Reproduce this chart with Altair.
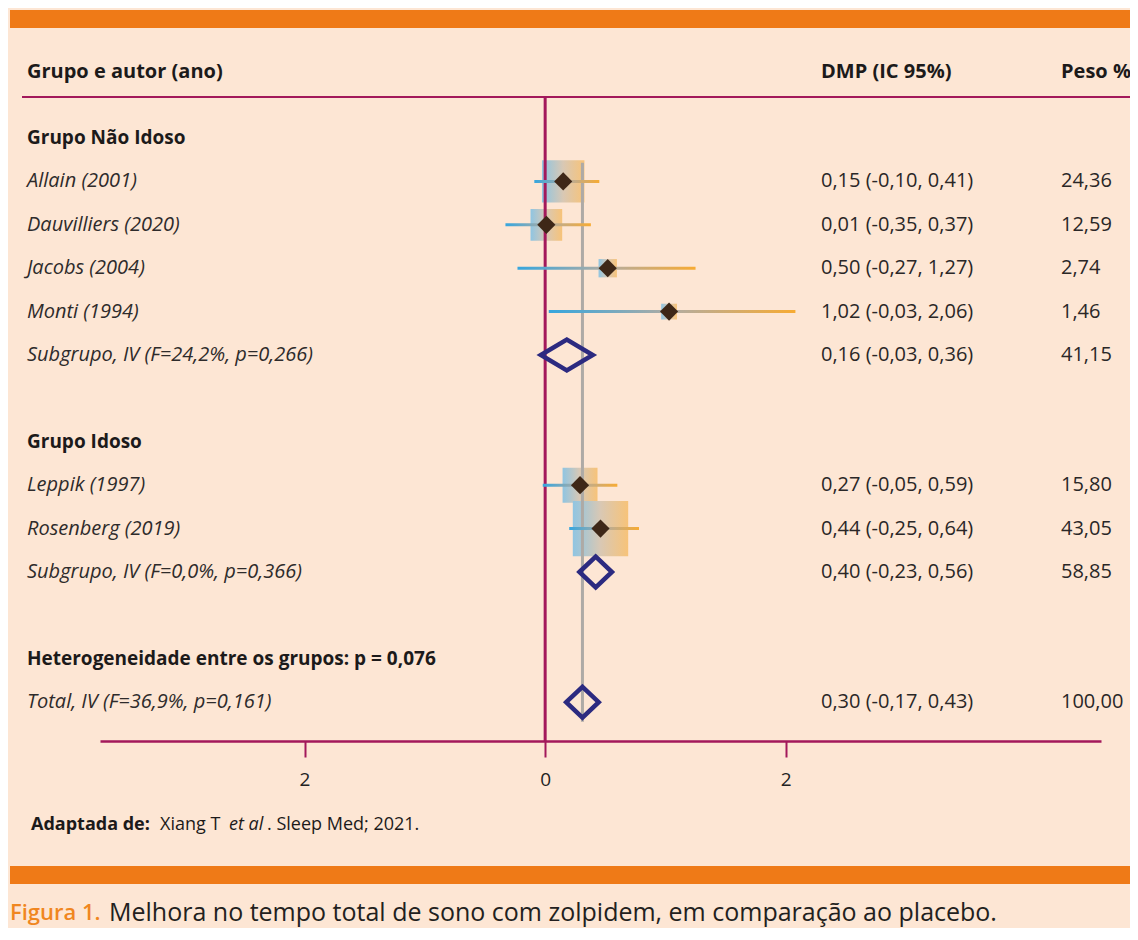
import altair as alt
import pandas as pd

# ---------------- data ----------------
row_labels = [
    "Grupo Não Idoso", "Allain (2001)", "Dauvilliers (2020)", "Jacobs (2004)",
    "Monti (1994)", "Subgrupo, IV (F=24,2%, p=0,266)", "Grupo Idoso",
    "Leppik (1997)", "Rosenberg (2019)", "Subgrupo, IV (F=0,0%, p=0,366)",
    "Heterogeneidade entre os grupos: p = 0,076", "Total, IV (F=36,9%, p=0,161)",
]
row_index = [0, 1, 2, 3, 4, 5, 7, 8, 9, 10, 12, 13]
row_kind = ["group", "study", "study", "study", "study", "pooled", "group",
            "study", "study", "pooled", "group", "pooled"]
dmp_text = ["", "0,15 (-0,10, 0,41)", "0,01 (-0,35, 0,37)", "0,50 (-0,27, 1,27)",
            "1,02 (-0,03, 2,06)", "0,16 (-0,03, 0,36)", "", "0,27 (-0,05, 0,59)",
            "0,44 (-0,25, 0,64)", "0,40 (-0,23, 0,56)", "", "0,30 (-0,17, 0,43)"]
peso_text = ["", "24,36", "12,59", "2,74", "1,46", "41,15", "", "15,80", "43,05",
             "58,85", "", "100,00"]

# studies as drawn in the plot
study_row = [1, 2, 3, 4, 8, 9]
study_est = [0.15, 0.01, 0.52, 1.03, 0.29, 0.46]
study_lo = [-0.09, -0.33, -0.23, 0.03, -0.02, 0.20]
study_hi = [0.45, 0.38, 1.25, 2.08, 0.60, 0.78]
study_weight = [24.36, 12.59, 2.74, 1.46, 15.80, 43.05]

# pooled estimates (diamonds)
pooled_row = [5, 10, 13]
pooled_est = [0.18, 0.42, 0.31]
overall_est = 0.31

axis_ticks = [-2, 0, 2]

# ---------------- layout / style ----------------
W, H = 1001, 733
PAD = {"left": 92, "top": 0, "right": 29, "bottom": 187}
ROW0_PX, ROW_STEP = 130, 43.4
y_dom = [-ROW0_PX / ROW_STEP, (H - ROW0_PX) / ROW_STEP]
x_dom = [-3.7, 4.62]

BG = "#fde6d4"
ORANGE = "#ef7a17"
MAROON = "#a3195b"
GRAY = "#aeaaa6"
BROWN = "#3e2717"
NAVY = "#2c2a80"
TXT = "#1c1a1a"
FONT = "Open Sans"

xscale = alt.Scale(domain=x_dom, nice=False, zero=False)
yscale = alt.Scale(domain=y_dom, nice=False, zero=False, reverse=True)
xaxis = alt.Axis(values=axis_ticks, labelExpr="'' + abs(datum.value)", title=None,
                 grid=False, domainColor=MAROON, domainWidth=2.5, tickColor=MAROON,
                 tickWidth=2, tickSize=16, labelFontSize=19, labelFont=FONT,
                 labelColor="#222222", labelPadding=13)


def X(f):
    return alt.X(f, type="quantitative", scale=xscale, axis=xaxis)


def Y(f):
    return alt.Y(f, type="quantitative", scale=yscale, axis=None)


rows = pd.DataFrame({"row": row_index, "label": row_labels, "kind": row_kind,
                     "dmp": dmp_text, "peso": peso_text})
studies = pd.DataFrame({"row": study_row, "est": study_est, "lo": study_lo,
                        "hi": study_hi, "weight": study_weight})
wide = "M-0.91,0L0,-0.54L0.91,0L0,0.54Z"
narrow = "M-0.57,0L0,-0.54L0.57,0L0,0.54Z"
pooled = pd.DataFrame({"row": pooled_row, "est": pooled_est,
                       "shape": [wide, narrow, narrow]})
ref = pd.DataFrame({"x": [overall_est], "y1": [min(study_row) - 0.43],
                    "y2": [max(row_index) + 0.45]})
one = pd.DataFrame({"a": [0]})

ci_grad = alt.LinearGradient(gradient="linear", x1=0, x2=1, y1=0, y2=0, stops=[
    alt.GradientStop(offset=0, color="#36a6de"),
    alt.GradientStop(offset=0.5, color="#b2aca2"),
    alt.GradientStop(offset=1, color="#f7ab33")])
box_grad = alt.LinearGradient(gradient="linear", x1=0, x2=1, y1=0, y2=0, stops=[
    alt.GradientStop(offset=0, color="#8fc5e2"),
    alt.GradientStop(offset=0.5, color="#d9c8b4"),
    alt.GradientStop(offset=1, color="#f7c379")])

bars = alt.Chart(pd.DataFrame({"y1": [2, 858], "y2": [20, 876]})).mark_rect(
    color=ORANGE).encode(x=alt.value(-90), x2=alt.value(1040),
                         y=alt.Y("y1:Q", scale=None), y2="y2:Q")

header_line = alt.Chart(one).mark_rule(color=MAROON, strokeWidth=2).encode(
    x=alt.value(-78), x2=alt.value(1040), y=alt.value(89))

boxes = alt.Chart(studies).mark_square(filled=True, opacity=1, fill=box_grad,
                                       strokeWidth=0).encode(
    x=X("est"), y=Y("row"),
    size=alt.Size("weight:Q", scale=alt.Scale(domain=[0, 45], range=[150, 3200]),
                  legend=None))

ref_line = alt.Chart(ref).mark_rule(color=GRAY, strokeWidth=3).encode(
    x=X("x"), y=Y("y1"), y2="y2")

zero_line = alt.Chart(one).mark_rule(color=MAROON, strokeWidth=3).encode(
    x=alt.datum(0, scale=xscale, type="quantitative"), y=alt.value(89), y2=alt.value(H))

ci = alt.Chart(studies).mark_rect(fill=ci_grad, yOffset=-1.5, y2Offset=1.5).encode(
    x=X("lo"), x2="hi", y=Y("row"), y2="row")

dots = alt.Chart(studies).mark_point(shape="diamond", filled=True, size=330,
                                     color=BROWN, opacity=1).encode(
    x=X("est"), y=Y("row"))

diamonds = alt.Chart(pooled).mark_point(filled=False, size=3249, color=NAVY,
                                        strokeWidth=4.5, opacity=1,
                                        strokeJoin="miter").encode(
    x=X("est"), y=Y("row"), shape=alt.Shape("shape:N", scale=None))

base_txt = alt.Chart(rows)
group_txt = base_txt.transform_filter("datum.kind == 'group'").mark_text(
    align="left", baseline="middle", font=FONT, fontSize=19, fontWeight="bold",
    color=TXT).encode(x=alt.value(-73), y=Y("row"), text="label:N")
study_txt = base_txt.transform_filter("datum.kind != 'group'").mark_text(
    align="left", baseline="middle", font=FONT, fontSize=20, fontStyle="italic",
    color="#2e2b2b").encode(x=alt.value(-73), y=Y("row"), text="label:N")
dmp_txt = base_txt.mark_text(align="left", baseline="middle", font=FONT, fontSize=20,
                             color="#2a2727").encode(
    x=alt.value(721), y=Y("row"), text="dmp:N")
peso_txt = base_txt.mark_text(align="left", baseline="middle", font=FONT, fontSize=20,
                              color="#2a2727").encode(
    x=alt.value(961), y=Y("row"), text="peso:N")

head = pd.DataFrame({"t": ["Grupo e autor (ano)", "DMP (IC 95%)", "Peso %"],
                     "px": [-73, 721, 961]})
head_txt = alt.Chart(head).mark_text(align="left", baseline="middle", font=FONT,
                                     fontSize=20, fontWeight="bold", color=TXT).encode(
    x=alt.X("px:Q", scale=None), y=alt.value(64), text="t:N")

foot = pd.DataFrame({
    "t": ["Adaptada de:", "Xiang T", "et al", ". Sleep Med; 2021."],
    "px": [-69, 60, 129, 167],
    "w": ["bold", "normal", "normal", "normal"],
    "s": ["normal", "normal", "italic", "normal"]})
foot_layers = []
for _, r in foot.iterrows():
    foot_layers.append(alt.Chart(pd.DataFrame([r])).mark_text(
        align="left", baseline="middle", font=FONT, fontSize=18, fontWeight=r["w"],
        fontStyle=r["s"], color=TXT).encode(x=alt.value(int(r["px"])), y=alt.value(817),
                                            text="t:N"))

cap1 = alt.Chart(one).mark_text(align="left", baseline="middle", font=FONT, fontSize=22,
                                fontWeight=600, color="#f0861f", text="Figura 1.").encode(
    x=alt.value(-90), y=alt.value(905))
cap2 = alt.Chart(one).mark_text(
    align="left", baseline="middle", font=FONT, fontSize=25, color="#231f20",
    text="Melhora no tempo total de sono com zolpidem, em comparação ao placebo.").encode(
    x=alt.value(9), y=alt.value(905))

chart = alt.layer(
    bars, header_line, boxes, ref_line, zero_line, ci, dots, diamonds,
    group_txt, study_txt, dmp_txt, peso_txt, head_txt, *foot_layers, cap1, cap2
).properties(
    width=W, height=H, padding=PAD, background=BG,
    autosize=alt.AutoSizeParams(type="none"),
).configure_view(stroke=None)

chart.save("out.html", embed_options={"renderer": "svg", "actions": False})
